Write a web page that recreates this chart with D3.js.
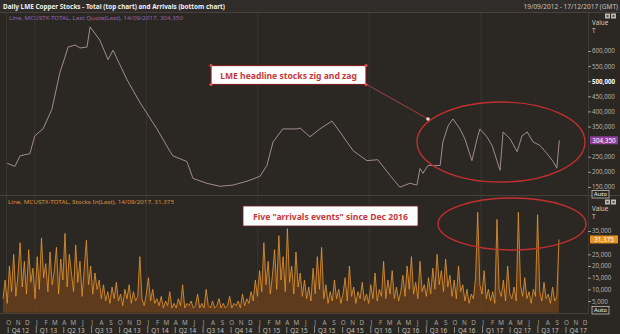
<!DOCTYPE html>
<html><head><meta charset="utf-8">
<script src="https://cdn.jsdelivr.net/npm/d3@7"></script>
<style>
html,body{margin:0;padding:0;background:#2b2824;}
svg{display:block;}
text{font-family:"Noto Sans","DejaVu Sans",sans-serif;}
</style></head>
<body>
<svg id="c" width="620" height="334"></svg>
<script>
// ---- Data ----
const titleText = "Daily LME Copper Stocks - Total (top chart) and Arrivals (bottom chart)";
const rangeText = "19/09/2012 - 17/12/2017 (GMT)";
const topLegend = "Line, MCUSTX-TOTAL, Last Quote(Last), 14/09/2017, 304,350";
const botLegend = "Line, MCUSTX-TOTAL, Stocks In(Last), 14/09/2017, 31,375";
const topAnnot = "LME headline stocks zig and zag";
const botAnnot = "Five \"arrivals events\" since Dec 2016";

// Total stocks (tonnes)
const stockDates = ["2012-10-03","2012-10-28","2012-11-14","2012-12-16","2013-01-01","2013-01-28","2013-02-26","2013-03-24","2013-04-10","2013-04-20","2013-05-13","2013-05-29","2013-06-21","2013-07-01","2013-08-02","2013-08-29","2013-09-14","2013-10-30","2013-12-11","2014-02-05","2014-03-20","2014-03-29","2014-05-14","2014-06-03","2014-07-18","2014-08-30","2014-10-12","2014-11-27","2015-01-08","2015-01-31","2015-02-20","2015-03-24","2015-05-09","2015-05-19","2015-06-21","2015-07-23","2015-09-01","2015-09-27","2015-11-09","2015-12-24","2016-01-29","2016-03-09","2016-04-10","2016-05-13","2016-06-05","2016-06-15","2016-06-25","2016-07-11","2016-08-20","2016-08-29","2016-09-15","2016-10-01","2016-10-24","2016-11-09","2016-12-02","2016-12-19","2016-12-28","2017-01-20","2017-02-06","2017-03-04","2017-03-14","2017-04-06","2017-04-29","2017-05-15","2017-06-01","2017-06-20","2017-07-13","2017-08-05","2017-08-25","2017-09-06","2017-09-14"];
const stockValues = [228000,218000,253000,260000,319000,342000,407000,528000,580000,613000,620000,610000,613000,680000,636000,571000,603000,505000,430000,342000,267000,253000,234000,178000,162000,152000,156000,169000,185000,221000,299000,342000,342000,345000,316000,342000,368000,332000,270000,237000,240000,188000,149000,162000,156000,211000,195000,221000,221000,299000,352000,375000,342000,309000,237000,309000,342000,316000,287000,205000,332000,309000,267000,319000,332000,299000,287000,260000,234000,212000,304350];

// Weekly arrivals (Stocks In, thousand tonnes), weeks from 2012-09-19
const arrivalsStart = "2012-09-19";
const arrivalsK = [
 6,14,4,20,9,25,7,16,30,11,
 22,8,27,13,19,6,24,10,32,15,
 21,9,26,12,18,28,8,23,14,34,
 11,25,17,9,29,13,22,7,19,31,
 12,20,8,17,10,14,6,12,5,9,
 4,11,6,13,5,8,3,10,6,12,
 4,9,5,7,24,6,3,8,15,5,
 10,4,6,3,7,2,5,3,9,2,
 4,2,6,3,12,2,4,3,5,2,
 3,8,2,4,2,10,3,2,5,2,
 3,6,2,4,2,3,7,2,4,3,
 5,2,8,3,6,4,9,5,14,7,
 18,9,30,12,22,8,16,27,10,33,
 14,24,9,36,13,20,8,26,11,17,
 7,14,6,11,5,19,8,24,10,28,
 6,12,4,9,5,14,6,10,4,8,
 15,5,20,7,11,4,9,6,13,5,
 8,4,12,6,17,5,10,7,22,6,
 14,8,18,6,11,5,9,16,7,20,
 10,24,8,13,6,22,9,12,7,15,
 8,19,10,25,12,18,9,23,11,16,
 7,14,6,20,9,12,5,10,4,8,
 6,15,43,12,8,18,6,10,5,9,
 4,40,10,7,14,5,20,8,6,11,
 5,43,12,7,15,6,9,4,10,7,
 42,9,5,13,6,8,4,11,5,7,31.375];

// tick labels (300,000 and 30,000 sit under the last-value boxes in the reference)
const topTicks = [150000,200000,250000,350000,400000,450000,500000,550000,600000];
const botTicks = [5000,10000,15000,20000,25000,35000];
const lastTop = 304350, lastBot = 31375;

// ---- Drawing ----
const svg = d3.select("#c");
const W = 620, H = 334;
const parse = d3.timeParse("%Y-%m-%d");
const x = d3.scaleTime().domain([new Date(2012,8,19), new Date(2017,11,17)]).range([3,588]);
const yT = d3.scaleLinear().domain([150000,600000]).range([186.9,51]);
const yB = d3.scaleLinear().domain([0,35000]).range([312.7,231]);

// backgrounds
svg.append("rect").attr("width",W).attr("height",H).attr("fill","#2b2824");
svg.append("rect").attr("width",W).attr("height",12).attr("fill","#2f2c29");
svg.append("line").attr("x1",0).attr("x2",W).attr("y1",12.5).attr("y2",12.5).attr("stroke","#47423d");

// year gridlines
const years = d3.timeYear.range(new Date(2013,0,1), new Date(2018,0,1));
svg.append("g").selectAll("line").data(years).join("line")
  .attr("x1",d=>x(d)).attr("x2",d=>x(d)).attr("y1",13).attr("y2",313)
  .attr("stroke","#3a3531").attr("stroke-width",1);
svg.append("line").attr("x1",6.5).attr("x2",6.5).attr("y1",13).attr("y2",313).attr("stroke","#3a3531");

// panel separators
svg.append("line").attr("x1",0).attr("x2",W).attr("y1",195.5).attr("y2",195.5).attr("stroke","#46413c");
svg.append("line").attr("x1",0).attr("x2",588).attr("y1",313.5).attr("y2",313.5).attr("stroke","#46413c");
svg.append("line").attr("x1",588.5).attr("x2",588.5).attr("y1",13).attr("y2",314).attr("stroke","#3e3934");

// title texts
svg.append("text").attr("x",3).attr("y",8.5).attr("fill","#f0f0f0").attr("font-size",7).attr("font-weight","bold")
  .attr("textLength",222).attr("lengthAdjust","spacingAndGlyphs").text(titleText);
svg.append("text").attr("x",618).attr("y",8.5).attr("text-anchor","end").attr("fill","#c8c4c0").attr("font-size",6.5)
  .text(rangeText);
svg.append("text").attr("x",9).attr("y",19.5).attr("fill","#9a62a8").attr("font-size",6)
  .attr("textLength",174).attr("lengthAdjust","spacingAndGlyphs").text(topLegend);
svg.append("text").attr("x",8).attr("y",204).attr("fill","#d8903a").attr("font-size",6)
  .attr("textLength",166).attr("lengthAdjust","spacingAndGlyphs").text(botLegend);

// top line
const stockData = stockDates.map((d,i)=>({d:parse(d), v:stockValues[i]}));
svg.append("path").datum(stockData)
  .attr("d", d3.line().x(d=>x(d.d)).y(d=>yT(d.v)))
  .attr("fill","none").attr("stroke","#a28a94").attr("stroke-width",1);

// bottom arrivals
const st = parse(arrivalsStart);
const arrData = arrivalsK.map((v,i)=>({d:d3.timeDay.offset(st, i*7), v:v*1000}));
svg.append("path").datum(arrData)
  .attr("d", d3.area().x(d=>x(d.d)).y0(yB(0)).y1(d=>yB(d.v)))
  .attr("fill","#7e4818").attr("opacity",0.6);
svg.append("path").datum(arrData)
  .attr("d", d3.line().x(d=>x(d.d)).y(d=>yB(d.v)))
  .attr("fill","none").attr("stroke","#e8982e").attr("stroke-width",0.8);

// right axes
const fmt = d3.format(",");
const axT = svg.append("g").attr("transform","translate(588,0)")
  .call(d3.axisRight(yT).tickValues(topTicks).tickSize(3).tickFormat(fmt));
const axB = svg.append("g").attr("transform","translate(588,0)")
  .call(d3.axisRight(yB).tickValues(botTicks).tickSize(3).tickFormat(fmt));
[axT,axB].forEach(a=>{
  a.select(".domain").remove();
  a.selectAll("line").attr("stroke","#a09a94");
  a.selectAll("text").attr("fill","#b4aea8").attr("font-size",6.2).attr("x",4)
   .attr("font-family","'Noto Sans',sans-serif");
});
axT.selectAll("text").filter(d=>d===500000).attr("fill","#ffffff").attr("font-weight","bold");

function axisHead(y){
  svg.append("text").attr("x",592).attr("y",y).attr("fill","#d0ccc8").attr("font-size",6.3).text("Value");
  svg.append("text").attr("x",592).attr("y",y+8).attr("fill","#d0ccc8").attr("font-size",6.3).text("T");
}
axisHead(25); axisHead(211);
function icons(y){
  [605,611].forEach(xx=>{
    svg.append("rect").attr("x",xx).attr("y",y).attr("width",5).attr("height",5).attr("fill","#bdb8b4");
    svg.append("rect").attr("x",xx+1.5).attr("y",y+1.5).attr("width",2).attr("height",2).attr("fill","#555");
  });
}
icons(13.5); icons(199.5);
function autoBtn(y){
  svg.append("rect").attr("x",592).attr("y",y).attr("width",17).attr("height",7.5).attr("fill","#2b2824").attr("stroke","#d8d4d0").attr("stroke-width",0.7);
  svg.append("text").attr("x",600.5).attr("y",y+5.9).attr("text-anchor","middle").attr("fill","#f0f0f0").attr("font-size",5.8).text("Auto");
}
autoBtn(190.5); autoBtn(306.5);
function lastLabel(v, y, bg){
  svg.append("rect").attr("x",590).attr("y",y-4).attr("width",28).attr("height",8).attr("fill",bg);
  svg.append("text").attr("x",604).attr("y",y+2.3).attr("text-anchor","middle").attr("fill","#ffffff").attr("font-size",6.3).text(fmt(v));
}
lastLabel(lastTop, yT(lastTop), "#8f3d9c");
lastLabel(lastBot, yB(lastBot), "#e8921f");

// x axis: months & quarters
const months = d3.timeMonth.range(new Date(2012,9,1), new Date(2018,0,1));
const mLetter = d3.timeFormat("%b");
svg.append("g").selectAll("text").data(months).join("text")
  .attr("x",d=>x(d)+2).attr("y",325).attr("text-anchor","middle")
  .attr("fill","#a8a39e").attr("font-size",6.3).text(d=>mLetter(d)[0]);
const quarters = months.filter(d=>d.getMonth()%3===0);
const qg = svg.append("g");
qg.selectAll("text.q").data(quarters).join("text").attr("class","q")
  .attr("x",d=>x(d)+5).attr("y",332.5)
  .attr("fill","#c4c0bb").attr("font-size",6.3)
  .text(d=>"Q"+(Math.floor(d.getMonth()/3)+1)+" "+String(d.getFullYear()).slice(2));
qg.selectAll("line").data(quarters).join("line")
  .attr("x1",d=>x(d)+1.5).attr("x2",d=>x(d)+1.5).attr("y1",327).attr("y2",333)
  .attr("stroke","#a8a39e").attr("stroke-width",0.8);

// annotations
const red = "#c0302e";
svg.append("ellipse").attr("cx",501).attr("cy",142).attr("rx",84).attr("ry",40)
  .attr("fill","none").attr("stroke",red).attr("stroke-width",1.4);
svg.append("line").attr("x1",366).attr("y1",84).attr("x2",428).attr("y2",119).attr("stroke","#a04040").attr("stroke-width",1);
svg.append("circle").attr("cx",428).attr("cy",119).attr("r",1.8).attr("fill","#f4d8d0");
svg.append("rect").attr("x",211).attr("y",65.5).attr("width",155).attr("height",19)
  .attr("fill","#ffffff").attr("stroke","#7a2020").attr("stroke-width",1.2);
[[211,65.5],[366,65.5],[211,84.5],[366,84.5]].forEach(p=>svg.append("circle").attr("cx",p[0]).attr("cy",p[1]).attr("r",1.6).attr("fill","#e05050"));
svg.append("text").attr("x",288.5).attr("y",78.5).attr("text-anchor","middle").attr("fill","#c8373a")
  .attr("font-family","'Liberation Sans',Arial,sans-serif").attr("font-weight","bold").attr("font-size",8.6)
  .text(topAnnot);
svg.append("ellipse").attr("cx",512).attr("cy",224).attr("rx",74).attr("ry",26)
  .attr("fill","none").attr("stroke",red).attr("stroke-width",1.4);
svg.append("rect").attr("x",243).attr("y",206).attr("width",175).attr("height",20)
  .attr("fill","#ffffff").attr("stroke","#6a2020").attr("stroke-width",0.8);
svg.append("text").attr("x",330.5).attr("y",219.5).attr("text-anchor","middle").attr("fill","#c8373a")
  .attr("font-family","'Liberation Sans',Arial,sans-serif").attr("font-weight","bold").attr("font-size",8.6)
  .text(botAnnot);
</script>
</body></html>
